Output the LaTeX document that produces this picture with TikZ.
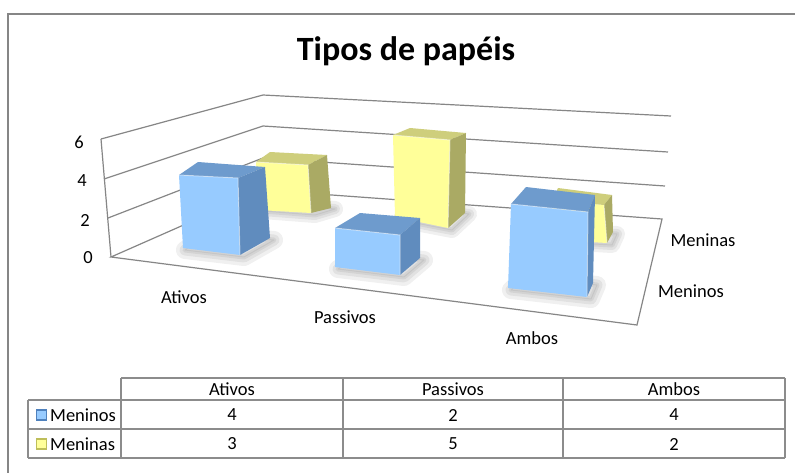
\documentclass[tikz,border=0pt]{standalone}
\usepackage{fontspec}
\setmainfont{Carlito}
\definecolor{gridgray}{RGB}{134,134,134}
\definecolor{tblgray}{RGB}{140,140,140}
\definecolor{bfront}{RGB}{151,203,255}
\definecolor{btop}{RGB}{110,155,205}
\definecolor{bright}{RGB}{96,140,190}
\definecolor{yfront}{RGB}{255,255,153}
\definecolor{ytop}{RGB}{206,206,124}
\definecolor{yright}{RGB}{170,170,100}
\definecolor{bkey}{RGB}{79,129,189}
\definecolor{ykey}{RGB}{190,190,90}
\begin{document}
\begin{tikzpicture}[x=1pt,y=-1pt,
  grid/.style={draw=gridgray, line width=1.2pt},
  tbl/.style={draw=tblgray, line width=1.4pt},
  lbl/.style={font=\fontsize{18.5}{20}\selectfont, text=black, inner sep=0pt},
  ttl/.style={font=\fontsize{34}{38}\selectfont\bfseries, text=black, inner sep=0pt},
  face/.style={line width=0.4pt, line join=round},
  shad/.style={black, opacity=0.06, line join=round}]
\useasboundingbox (0,0) rectangle (795,472);
\fill[white] (0,0) rectangle (795,472);
% outer frame
\draw[gridgray, line width=1.5pt] (8,490) -- (8,14) -- (810,14);
% title
\node[ttl] (title) at (406,51) {Tipos de papéis};
% walls and floor corners
\coordinate (L6) at (101,139); \coordinate (L4) at (104,179);
\coordinate (L2) at (108,218); \coordinate (L0) at (111,257);
\coordinate (K6) at (263,95);  \coordinate (K4) at (263,126);
\coordinate (K2) at (263,158); \coordinate (K0) at (263,190);
\coordinate (R6) at (671,116); \coordinate (R4) at (668,152);
\coordinate (R2) at (665,186); \coordinate (R0) at (662,219);
\coordinate (F0) at (637,325);
\draw[grid] (L6) -- (L0);
\draw[grid] (L6) -- (K6) -- (R6);
\draw[grid] (L4) -- (K4) -- (R4);
\draw[grid] (L2) -- (K2) -- (R2);
\draw[grid] (L0) -- (K0) -- (R0) -- (F0) -- cycle;
% axis labels
\node[lbl] (v6) at (79,142) {6};
\node[lbl] (v4) at (82,181) {4};
\node[lbl] (v2) at (85,220) {2};
\node[lbl] (v0) at (88,258) {0};
\node[lbl] (xa) at (184,297) {Ativos};
\node[lbl] (xp) at (345,317) {Passivos};
\node[lbl] (xm) at (532,338) {Ambos};
\node[lbl] (sa) at (703,240) {Meninas};
\node[lbl] (so) at (691,291) {Meninos};
% shadows (back row)
\foreach \w in {16,10,5,1}{
  \draw[shad, line width=\w pt] (263,211)--(315,215)--(335,209)--(280,204)--cycle;
  \draw[shad, line width=\w pt] (400,220)--(452,230)--(469,214)--(416,207)--cycle;
  \draw[shad, line width=\w pt] (559,242)--(612,245)--(617,234)--(564,232)--cycle;
}
% yellow bars
\fill[yfront, face] (256,162) -- (308,165) -- (311,213) -- (259,210) -- cycle;
\fill[ytop, face] (256,162) -- (270,152) -- (327,155) -- (308,165) -- cycle;
\fill[yright, face] (308,165) -- (327,155) -- (331,208) -- (311,213) -- cycle;
\fill[yfront, face] (393,135) -- (450,140) -- (448,228) -- (395,217) -- cycle;
\fill[ytop, face] (393,135) -- (410,128) -- (466,133) -- (450,140) -- cycle;
\fill[yright, face] (450,140) -- (466,133) -- (465,213) -- (448,228) -- cycle;
\fill[yfront, face] (552,200) -- (604,205) -- (607,243) -- (555,240) -- cycle;
\fill[ytop, face] (552,200) -- (558,188) -- (612,195) -- (604,205) -- cycle;
\fill[yright, face] (604,205) -- (612,195) -- (613,232) -- (607,243) -- cycle;
\draw[white, opacity=.45, line width=1pt] (256,162) -- (308,165) -- (311,213);
\draw[white, opacity=.45, line width=1pt] (393,135) -- (450,140) -- (448,228);
\draw[white, opacity=.45, line width=1pt] (604,205) -- (607,243);
% shadows (front row)
\foreach \w in {18,11,5,1}{
  \draw[shad, line width=\w pt] (185,250)--(244,257)--(274,240)--(207,234)--cycle;
  \draw[shad, line width=\w pt] (338,269)--(404,277)--(424,260)--(360,254)--cycle;
  \draw[shad, line width=\w pt] (511,290)--(591,299)--(597,285)--(525,277)--cycle;
}
% blue bars
\fill[bfront, face] (179,175) -- (238,178) -- (240,255) -- (183,248) -- cycle;
\fill[btop, face] (179,175) -- (198,162) -- (265,167) -- (238,178) -- cycle;
\fill[bright, face] (238,178) -- (265,167) -- (270,238) -- (240,255) -- cycle;
\fill[bfront, face] (335,228) -- (400,235) -- (400,275) -- (335,267) -- cycle;
\fill[btop, face] (335,228) -- (360,213) -- (420,218) -- (400,235) -- cycle;
\fill[bright, face] (400,235) -- (420,218) -- (420,258) -- (400,275) -- cycle;
\fill[bfront, face] (511,204) -- (588,212) -- (587,297) -- (508,288) -- cycle;
\fill[btop, face] (511,204) -- (526,187) -- (595,195) -- (588,212) -- cycle;
\fill[bright, face] (588,212) -- (595,195) -- (593,283) -- (587,297) -- cycle;
\draw[white, opacity=.45, line width=1pt] (179,175) -- (238,178) -- (240,255);
\draw[white, opacity=.45, line width=1pt] (335,228) -- (400,235) -- (400,275);
\draw[white, opacity=.45, line width=1pt] (511,204) -- (588,212) -- (587,297);
% data table
\draw[tbl] (121,378) -- (785,378);
\draw[tbl] (28,400) -- (785,400);
\draw[tbl] (28,429) -- (785,429);
\draw[tbl] (28,458) -- (785,458);
\draw[tbl] (28,400) -- (28,458);
\draw[tbl] (121,378) -- (121,458);
\draw[tbl] (343,378) -- (343,458);
\draw[tbl] (563,378) -- (563,458);
\draw[tbl] (785,378) -- (785,458);
\node[lbl] (ha) at (232,389) {Ativos};
\node[lbl] (hp) at (453,389) {Passivos};
\node[lbl] (hm) at (674,389) {Ambos};
\draw[draw=bkey, fill=bfront, line width=1.2pt] (36.5,410) rectangle (46.5,420);
\draw[draw=ykey, fill=yfront, line width=1.2pt] (36.5,439) rectangle (46.5,449);
\node[lbl, anchor=west] (r1) at (50,415) {Meninos};
\node[lbl, anchor=west] (r2) at (50,444) {Meninas};
\node[lbl] (c11) at (232,415) {4};
\node[lbl] (c12) at (453,415) {2};
\node[lbl] (c13) at (674,415) {4};
\node[lbl] (c21) at (232,444) {3};
\node[lbl] (c22) at (453,444) {5};
\node[lbl] (c23) at (674,444) {2};
\end{tikzpicture}
\end{document}
